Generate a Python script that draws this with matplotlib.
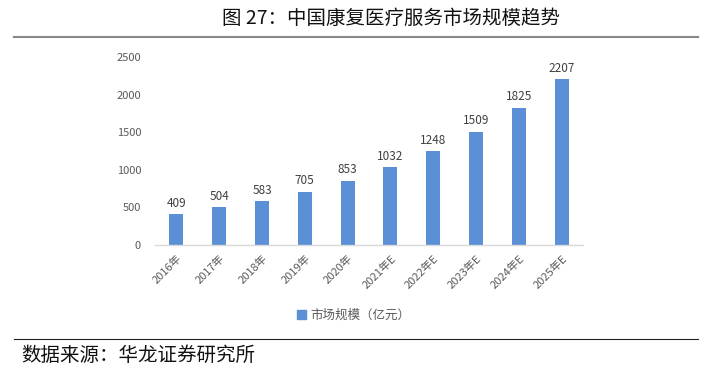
import matplotlib.pyplot as plt
from matplotlib.lines import Line2D
from matplotlib.patches import Patch

plt.rcParams['font.family'] = ['Noto Sans CJK SC', 'DejaVu Sans']

years = ['2016年', '2017年', '2018年', '2019年', '2020年',
         '2021年E', '2022年E', '2023年E', '2024年E', '2025年E']
market_size = [409, 504, 583, 705, 853, 1032, 1248, 1509, 1825, 2207]
yticks = [0, 500, 1000, 1500, 2000, 2500]

bar_color = '#5b8fd6'
tick_color = '#595959'

fig = plt.figure(figsize=(7.22, 3.68), dpi=100)
ax = fig.add_axes([0.2147, 0.3342, 0.5928, 0.5108])

x = range(len(years))
bars = ax.bar(x, market_size, width=0.33, color=bar_color, zorder=2)
for xi, v in zip(x, market_size):
    ax.text(xi, v + 60, str(v), ha='center', va='bottom', fontsize=8.5, color='#404040')

ax.set_xlim(-0.5, len(years) - 0.5)
ax.set_ylim(0, 2500)
ax.set_yticks(yticks)
ax.set_yticklabels([str(t) for t in yticks], fontsize=8, color=tick_color)
ax.set_xticks(list(x))
ax.set_xticklabels(years, rotation=45, ha='right', rotation_mode='anchor',
                   fontsize=8, color=tick_color)
ax.tick_params(axis='y', length=0, pad=10)
ax.tick_params(axis='x', length=0, pad=6)
for side in ['top', 'right', 'left']:
    ax.spines[side].set_visible(False)
ax.spines['bottom'].set_color('#d9d9d9')
ax.spines['bottom'].set_linewidth(1)

fig.legend(handles=[Patch(color=bar_color, label='市场规模（亿元）')],
           loc='center', bbox_to_anchor=(0.49, 0.144), frameon=False,
           fontsize=9, handlelength=0.7, handleheight=0.7, handletextpad=0.4,
           labelcolor=tick_color)

fig.text(0.541, 0.95, '图 27：中国康复医疗服务市场规模趋势', ha='center', va='center',
         fontsize=14, color='#111111')
fig.add_artist(Line2D([0.019, 0.967], [0.8995, 0.8995], color='#888888', lw=1.5))
fig.add_artist(Line2D([0.019, 0.967], [0.0788, 0.0788], color='#222222', lw=0.8))
fig.text(0.03, 0.035, '数据来源：华龙证券研究所', ha='left', va='center',
         fontsize=14, color='#111111')

fig.savefig('out.png', dpi=100)
